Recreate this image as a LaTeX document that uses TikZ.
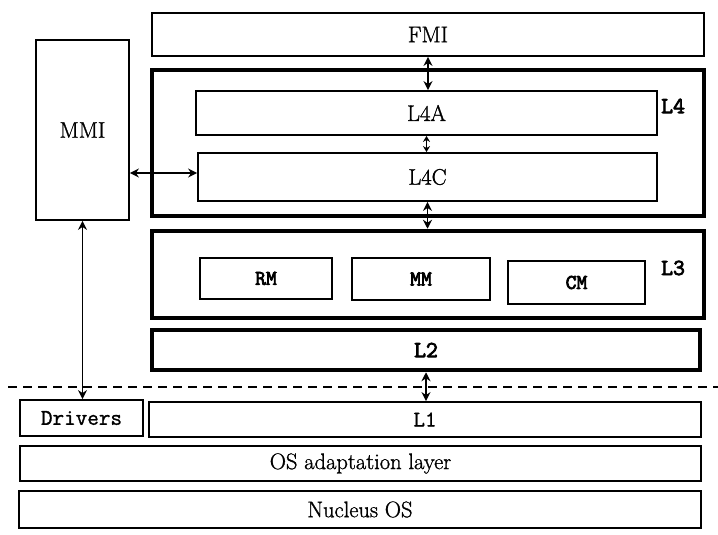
\documentclass[tikz,border=0pt]{standalone}
\usepackage{fontspec}
\setmainfont{Latin Modern Roman}[FakeBold=1.2]
\newfontfamily\scanmono{Latin Modern Mono}[FakeBold=1.2]
\newfontfamily\scanmonobold{Latin Modern Mono}[FakeBold=3.5]
\usetikzlibrary{arrows.meta,calc}
\begin{document}
\begin{tikzpicture}[x=1pt,y=-1pt,
  box/.style={draw,line width=1.8pt,inner sep=0pt,font=\fontsize{22.5}{26}\selectfont},
  thick box/.style={draw,line width=4.5pt,inner sep=0pt},
  ttlab/.style={font=\scanmono\fontsize{22.5}{26}\selectfont},
  modlab/.style={font=\scanmonobold\fontsize{21}{24}\selectfont},
  laylab/.style={inner sep=0pt,font=\scanmonobold\fontsize{23}{26}\selectfont},
  arr/.style={line width=1.8pt,{Stealth[length=9pt,width=9pt]}-{Stealth[length=9pt,width=9pt]}},
  smallarr/.style={line width=1.8pt,{Stealth[length=6pt,width=7pt]}-{Stealth[length=6pt,width=7pt]}}]
\useasboundingbox (0,0) rectangle (718,535);
% upper layers
\node[box,minimum width=552pt,minimum height=43pt] (fmi) at (428,34.5) {FMI};
\node[thick box,minimum width=552pt,minimum height=146pt] (l4) at (428,143) {};
\node[box,minimum width=461pt,minimum height=44pt] (l4a) at (426.5,113) {L4A};
\node[box,minimum width=459pt,minimum height=48pt] (l4c) at (427.5,177) {L4C};
\node[laylab,anchor=west] (l4lab) at (661,106) {L4};
\node[box,minimum width=93pt,minimum height=180pt] (mmi) at (82.5,130) {MMI};
\node[thick box,minimum width=552pt,minimum height=87pt] (l3) at (428,274.5) {};
\node[box,modlab,minimum width=132pt,minimum height=41pt] (rm) at (266,278.5) {RM};
\node[box,modlab,minimum width=138pt,minimum height=42pt] (mm) at (421,279) {MM};
\node[box,modlab,minimum width=137pt,minimum height=43pt] (cm) at (576.5,282.5) {CM};
\node[laylab,anchor=west] (l3lab) at (661,268) {L3};
\node[thick box,laylab,minimum width=548pt,minimum height=40pt] (l2) at (426,350) {L2};
% lower layers
\node[box,ttlab,minimum width=123pt,minimum height=36pt] (drv) at (81.5,418) {Drivers};
\node[box,ttlab,minimum width=552pt,minimum height=35pt] (l1) at (425,419.5) {L1};
\node[box,minimum width=681pt,minimum height=35pt] (os) at (360.5,463.5) {OS adaptation layer};
\node[box,minimum width=682pt,minimum height=37pt] (nos) at (360,509.5) {Nucleus OS};
% dashed separator
\coordinate (dl) at (8,387);
\coordinate (dr) at (718,387);
\draw[line width=1.8pt,dash pattern=on 9pt off 6pt] (dl) -- (dr);
% connectors
\draw[arr] (fmi.south) -- (fmi.south |- l4a.north);
\draw[smallarr] (l4a.south) -- (l4a.south |- l4c.north);
\draw[arr] (l4c.south) -- (l4c.south |- l3.north);
\draw[arr] (l2.south) -- (l2.south |- l1.north);
\draw[arr] ([yshift=4pt]l4c.west -| mmi.east) -- ([yshift=4pt]l4c.west);
\draw[arr] (mmi.south) -- (mmi.south |- drv.north);
\end{tikzpicture}
\end{document}
